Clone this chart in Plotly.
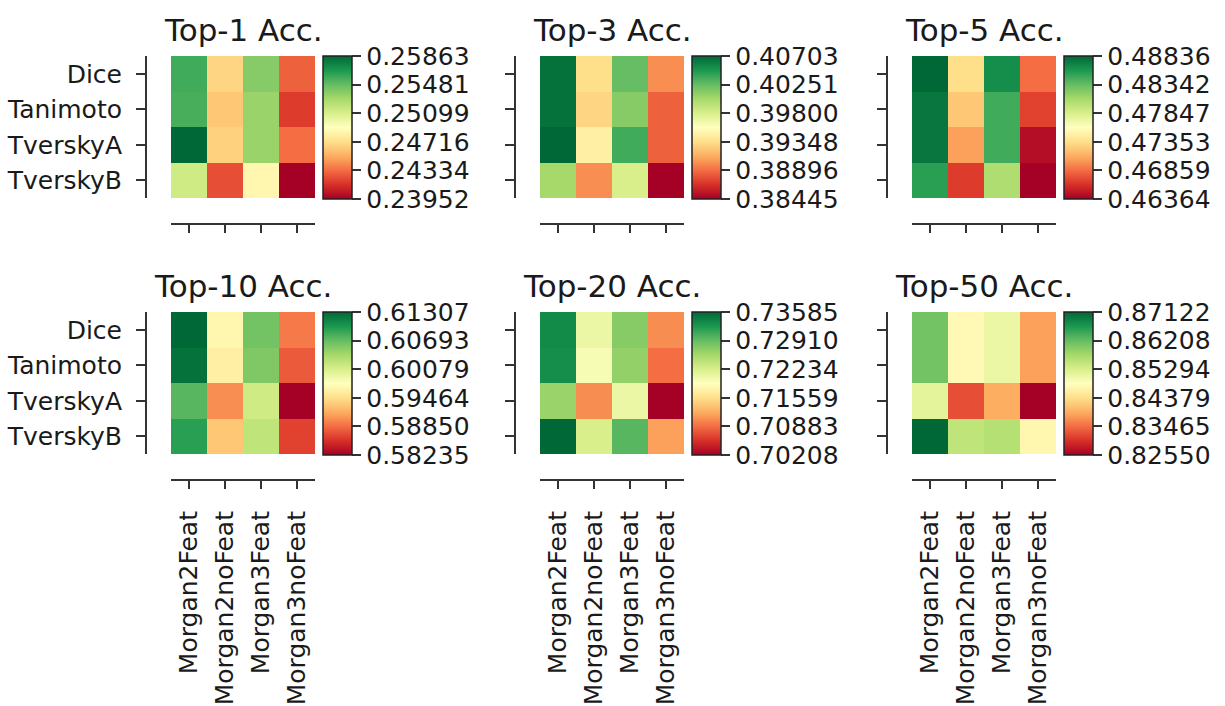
import plotly.graph_objects as go

W, H = 1225, 706

methods = ["Dice", "Tanimoto", "TverskyA", "TverskyB"]
fingerprints = ["Morgan2Feat", "Morgan2noFeat", "Morgan3Feat", "Morgan3noFeat"]
titles = ["Top-1 Acc.", "Top-3 Acc.", "Top-5 Acc.", "Top-10 Acc.", "Top-20 Acc.", "Top-50 Acc."]

top1 = [[0.25576, 0.24678, 0.25385, 0.24296],
        [0.25557, 0.24621, 0.25328, 0.24181],
        [0.25863, 0.24659, 0.25328, 0.24334],
        [0.25137, 0.24239, 0.24850, 0.23952]]
top3 = [[0.40658, 0.39348, 0.40251, 0.39010],
        [0.40658, 0.39303, 0.40139, 0.38851],
        [0.40703, 0.39461, 0.40364, 0.38851],
        [0.40026, 0.39010, 0.39800, 0.38445]]
top5 = [[0.48836, 0.47353, 0.48638, 0.46858],
        [0.48762, 0.47229, 0.48465, 0.46685],
        [0.48762, 0.47056, 0.48465, 0.46438],
        [0.48539, 0.46661, 0.48045, 0.46364]]
top10 = [[0.61307, 0.59679, 0.60631, 0.58911],
         [0.61246, 0.59617, 0.60570, 0.58757],
         [0.60754, 0.59003, 0.60140, 0.58235],
         [0.60938, 0.59310, 0.60232, 0.58634]]
top20 = [[0.73349, 0.72065, 0.72741, 0.71052],
         [0.73315, 0.71964, 0.72673, 0.70883],
         [0.72639, 0.71052, 0.72065, 0.70208],
         [0.73585, 0.72234, 0.72977, 0.71154]]
top50 = [[0.86116, 0.84745, 0.85065, 0.83830],
         [0.86116, 0.84745, 0.85065, 0.83830],
         [0.85156, 0.83236, 0.83922, 0.82550],
         [0.87122, 0.85522, 0.85613, 0.84699]]

cbar_labels = [
    ["0.25863", "0.25481", "0.25099", "0.24716", "0.24334", "0.23952"],
    ["0.40703", "0.40251", "0.39800", "0.39348", "0.38896", "0.38445"],
    ["0.48836", "0.48342", "0.47847", "0.47353", "0.46859", "0.46364"],
    ["0.61307", "0.60693", "0.60079", "0.59464", "0.58850", "0.58235"],
    ["0.73585", "0.72910", "0.72234", "0.71559", "0.70883", "0.70208"],
    ["0.87122", "0.86208", "0.85294", "0.84379", "0.83465", "0.82550"],
]

panels = [top1, top3, top5, top10, top20, top50]

# matplotlib RdYlGn
rdylgn = [
    [0.0, "rgb(165,0,38)"], [0.1, "rgb(215,48,39)"], [0.2, "rgb(244,109,67)"],
    [0.3, "rgb(253,174,97)"], [0.4, "rgb(254,224,139)"], [0.5, "rgb(255,255,191)"],
    [0.6, "rgb(217,239,139)"], [0.7, "rgb(166,217,106)"], [0.8, "rgb(102,189,99)"],
    [0.9, "rgb(26,152,80)"], [1.0, "rgb(0,104,55)"],
]

# layout geometry in pixels
col_x = [(171, 315), (540, 684), (912, 1056)]
row_y = [(56, 198), (312, 454)]
yline_x = [146, 515, 887]
xline_y = [224, 480]
cbar_x = [323, 692, 1064]
title_y = [30, 286]

FONT = "DejaVu Sans"
TXT = "#1a1a1a"
LINE = "#333333"
TICKSIZE = 25

fig = go.Figure()
layout = dict(
    width=W, height=H, margin=dict(l=0, r=0, t=0, b=0),
    paper_bgcolor="white", plot_bgcolor="white",
    font=dict(family=FONT, size=TICKSIZE, color=TXT),
    showlegend=False, annotations=[],
)

for i, z in enumerate(panels):
    r, c = divmod(i, 3)
    k = "" if i == 0 else str(i + 1)
    zmin = min(min(row) for row in z)
    zmax = max(max(row) for row in z)
    fig.add_trace(go.Heatmap(
        z=z, x=fingerprints, y=methods,
        xaxis="x" + k, yaxis="y" + k,
        colorscale=rdylgn, zmin=zmin, zmax=zmax,
        colorbar=dict(
            x=cbar_x[c] / W, xanchor="left", xpad=0, ypad=0,
            y=1 - row_y[r][0] / H, yanchor="top",
            lenmode="pixels", len=row_y[r][1] - row_y[r][0] + 1,
            thickness=29, outlinecolor="#222222", outlinewidth=1.5,
            tickvals=[float(v) for v in cbar_labels[i]], ticktext=cbar_labels[i],
            ticks="outside", ticklen=9, tickwidth=2, tickcolor=LINE,
            tickfont=dict(family=FONT, size=TICKSIZE, color=TXT),
        ),
        hoverinfo="skip",
    ))
    x0, x1 = col_x[c]
    y0, y1 = row_y[r]
    layout["xaxis" + k] = dict(
        domain=[x0 / W, x1 / W], anchor="free", position=1 - xline_y[r] / H,
        showline=True, linecolor=LINE, linewidth=2, mirror=False,
        ticks="outside", ticklen=8, tickwidth=2, tickcolor=LINE,
        showgrid=False, zeroline=False, tickangle=-90, ticklabelstandoff=12,
        showticklabels=(r == 1), tickfont=dict(family=FONT, size=TICKSIZE, color=TXT),
        fixedrange=True,
    )
    layout["yaxis" + k] = dict(
        domain=[1 - y1 / H, 1 - y0 / H], anchor="free", position=yline_x[c] / W,
        showline=True, linecolor=LINE, linewidth=2,
        ticks="outside", ticklen=9, tickwidth=2, tickcolor=LINE,
        showgrid=False, zeroline=False, autorange="reversed", ticklabelstandoff=9,
        showticklabels=(c == 0), tickfont=dict(family=FONT, size=TICKSIZE, color=TXT),
        fixedrange=True,
    )
    layout["annotations"].append(dict(
        text=titles[i], xref="paper", yref="paper",
        x=(x0 + x1) / 2 / W, y=1 - title_y[r] / H,
        xanchor="center", yanchor="middle", showarrow=False,
        font=dict(family=FONT, size=31, color=TXT),
    ))

fig.update_layout(**layout)
fig.write_html("out.html", config={"displayModeBar": False},
               post_script="document.body.style.margin='0';")
